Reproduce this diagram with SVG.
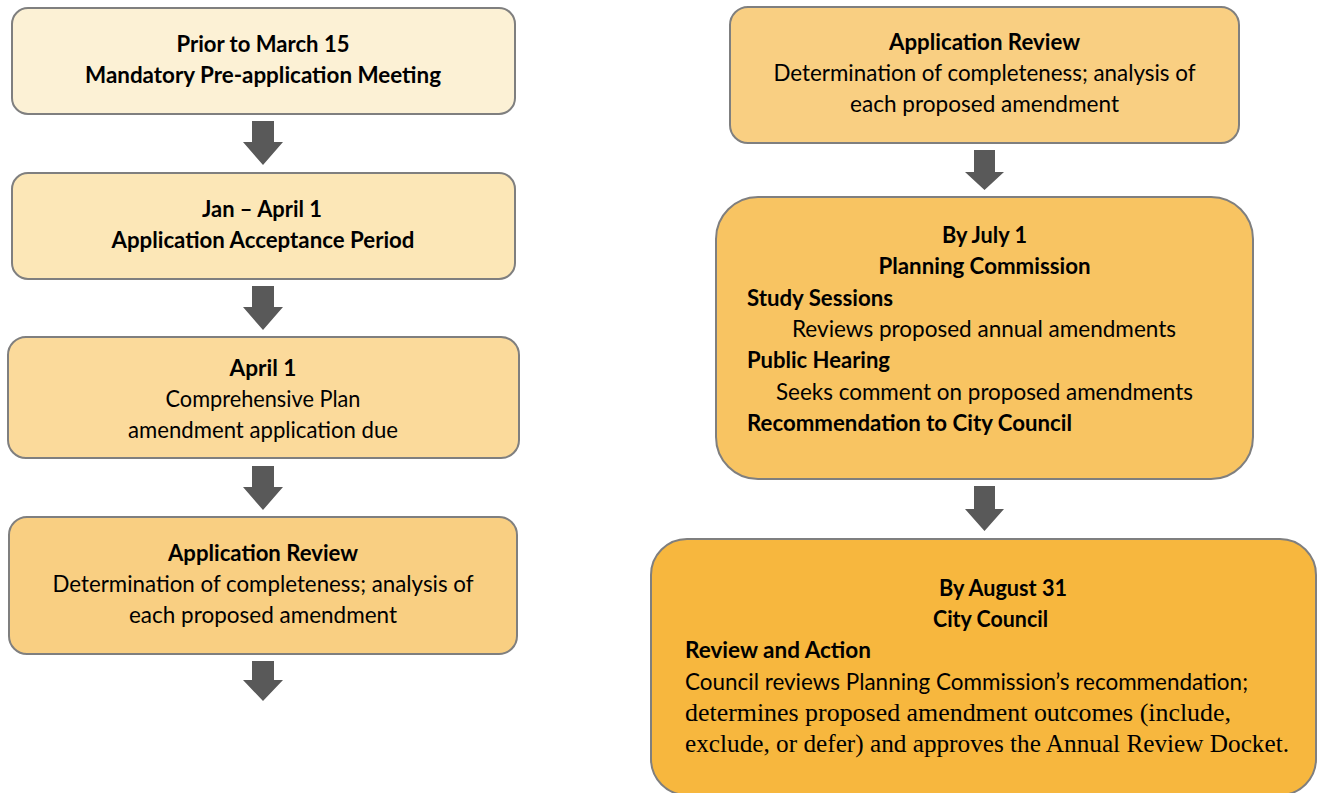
<svg xmlns="http://www.w3.org/2000/svg" width="1317" height="793" viewBox="0 0 1317 793">
  <defs>
    <style>
      .box { stroke: #7f7f7f; stroke-width: 2; }
      .arrow { fill: #595959; }
      text { font-family: Lato, "Open Sans", "Liberation Sans", sans-serif; font-size: 22.5px; fill: #000; }
      .b { font-weight: bold; }
      .c { text-anchor: middle; }
      .serif { font-family: "Liberation Serif", "DejaVu Serif", serif; font-size: 25px; }
    </style>
  </defs>

  <rect width="1317" height="793" fill="#ffffff"/>

  <!-- connectors: block down-arrows between stages -->
  <g id="connectors">
    <path class="arrow" d="M252,121 H274 V142 H283 L263,165 L243,142 H252 Z"/>
    <path class="arrow" d="M252,286 H274 V307 H283 L263,330 L243,307 H252 Z"/>
    <path class="arrow" d="M252,466 H274 V487 H283 L263,510 L243,487 H252 Z"/>
    <path class="arrow" d="M252,661 H274 V680 H283 L263,701 L243,680 H252 Z"/>
    <path class="arrow" d="M974,150 H995 V172 H1004 L984.5,190 L965,172 H974 Z"/>
    <path class="arrow" d="M974,486 H995 V509 H1004 L984.5,531 L965,509 H974 Z"/>
  </g>

  <!-- left column -->
  <g id="pre-application">
    <rect class="box" x="12" y="8" width="503" height="106" rx="16" fill="#fcf1d5"/>
    <text class="b c" x="263" y="52" textLength="173" lengthAdjust="spacingAndGlyphs">Prior to March 15</text>
    <text class="b c" x="263" y="83" textLength="356" lengthAdjust="spacingAndGlyphs">Mandatory Pre-application Meeting</text>
  </g>

  <g id="acceptance-period">
    <rect class="box" x="12" y="173" width="503" height="106" rx="16" fill="#fce7b7"/>
    <text class="b c" x="262" y="217" textLength="120" lengthAdjust="spacingAndGlyphs">Jan – April 1</text>
    <text class="b c" x="263" y="248" textLength="303" lengthAdjust="spacingAndGlyphs">Application Acceptance Period</text>
  </g>

  <g id="application-due">
    <rect class="box" x="8" y="337" width="511" height="121" rx="18" fill="#fbda9b"/>
    <text class="b c" x="263" y="376" textLength="67" lengthAdjust="spacingAndGlyphs">April 1</text>
    <text class="c" x="263" y="407" textLength="195" lengthAdjust="spacingAndGlyphs">Comprehensive Plan</text>
    <text class="c" x="263" y="438" textLength="270" lengthAdjust="spacingAndGlyphs">amendment application due</text>
  </g>

  <g id="application-review-left">
    <rect class="box" x="9" y="517" width="508" height="137" rx="18" fill="#f9cf82"/>
    <text class="b c" x="263" y="561" textLength="190" lengthAdjust="spacingAndGlyphs">Application Review</text>
    <text class="c" x="263" y="592" textLength="421" lengthAdjust="spacingAndGlyphs">Determination of completeness; analysis of</text>
    <text class="c" x="263" y="623" textLength="268" lengthAdjust="spacingAndGlyphs">each proposed amendment</text>
  </g>

  <!-- right column -->
  <g id="application-review-right">
    <rect class="box" x="730" y="7" width="509" height="136" rx="18" fill="#f9cf82"/>
    <text class="b c" x="984.5" y="50" textLength="191" lengthAdjust="spacingAndGlyphs">Application Review</text>
    <text class="c" x="984.5" y="81" textLength="422" lengthAdjust="spacingAndGlyphs">Determination of completeness; analysis of</text>
    <text class="c" x="984.5" y="112" textLength="269" lengthAdjust="spacingAndGlyphs">each proposed amendment</text>
  </g>

  <g id="planning-commission">
    <rect class="box" x="716" y="197" width="537" height="282" rx="42" fill="#f8c462"/>
    <text class="b c" x="984.5" y="243" textLength="85" lengthAdjust="spacingAndGlyphs">By July 1</text>
    <text class="b c" x="984.5" y="274" textLength="212" lengthAdjust="spacingAndGlyphs">Planning Commission</text>
    <text class="b" x="747" y="306" textLength="146" lengthAdjust="spacingAndGlyphs">Study Sessions</text>
    <text x="792" y="337" textLength="384" lengthAdjust="spacingAndGlyphs">Reviews proposed annual amendments</text>
    <text class="b" x="747" y="368" textLength="143" lengthAdjust="spacingAndGlyphs">Public Hearing</text>
    <text x="776" y="400" textLength="417" lengthAdjust="spacingAndGlyphs">Seeks comment on proposed amendments</text>
    <text class="b" x="747" y="431" textLength="325" lengthAdjust="spacingAndGlyphs">Recommendation to City Council</text>
  </g>

  <g id="city-council">
    <rect class="box" x="651" y="539" width="665" height="256" rx="36" fill="#f7b73e"/>
    <text class="b" x="939" y="596" textLength="128" lengthAdjust="spacingAndGlyphs">By August 31</text>
    <text class="b" x="933" y="627" textLength="115" lengthAdjust="spacingAndGlyphs">City Council</text>
    <text class="b" x="685" y="658" textLength="186" lengthAdjust="spacingAndGlyphs">Review and Action</text>
    <text x="685" y="690" textLength="563" lengthAdjust="spacingAndGlyphs">Council reviews Planning Commission’s recommendation;</text>
    <text class="serif" x="685" y="721" textLength="546" lengthAdjust="spacingAndGlyphs">determines proposed amendment outcomes (include,</text>
    <text class="serif" x="685" y="752" textLength="604" lengthAdjust="spacingAndGlyphs">exclude, or defer) and approves the Annual Review Docket.</text>
  </g>
</svg>
